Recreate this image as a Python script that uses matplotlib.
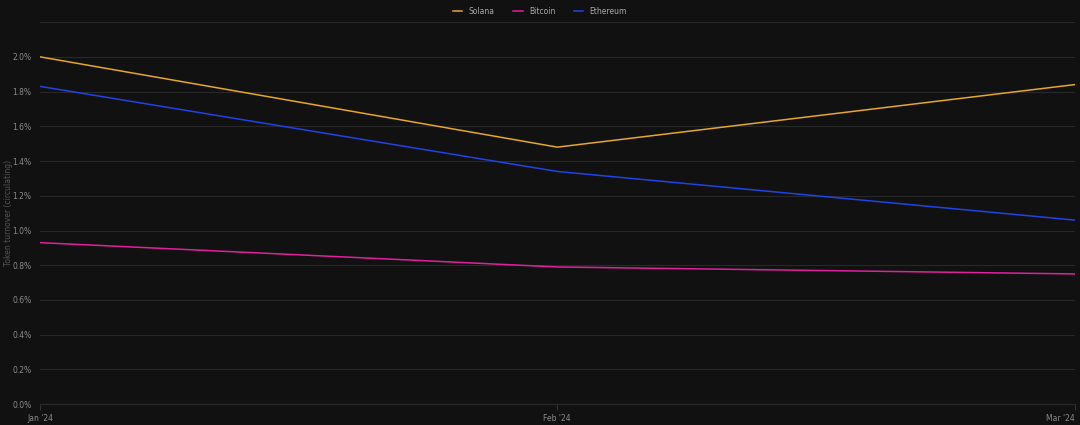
import matplotlib.pyplot as plt
from matplotlib.ticker import FuncFormatter

months = ["Jan '24", "Feb '24", "Mar '24"]
solana = [2.00, 1.48, 1.84]
bitcoin = [0.93, 0.79, 0.75]
ethereum = [1.83, 1.34, 1.06]
yticks = [0.0, 0.2, 0.4, 0.6, 0.8, 1.0, 1.2, 1.4, 1.6, 1.8, 2.0]

bg = '#111111'
fig = plt.figure(figsize=(10.8, 4.25), dpi=100, facecolor=bg)
ax = fig.add_axes([0.037, 0.049, 0.958, 0.899], facecolor=bg)

x = range(len(months))
ax.plot(x, solana, color='#e5a823', lw=1.1, label='Solana')
ax.plot(x, bitcoin, color='#e0219c', lw=1.1, label='Bitcoin')
ax.plot(x, ethereum, color='#1f44e6', lw=1.1, label='Ethereum')

ax.set_xlim(0, 2)
ax.set_ylim(0, 2.2)
ax.set_xticks(list(x))
ax.set_xticklabels(months)
ax.get_xticklabels()[-1].set_ha('right')
ax.set_yticks(yticks + [2.2])
ax.yaxis.set_major_formatter(FuncFormatter(lambda v, p: '' if v > 2.1 else f'{v:.1f}%'))
ax.grid(axis='y', color='#282828', lw=0.8)
ax.set_axisbelow(True)
for s in ax.spines.values():
    s.set_visible(False)
ax.spines['bottom'].set_visible(True)
ax.spines['bottom'].set_color('#2a2a2a')
ax.tick_params(axis='y', length=0, labelsize=5.5, labelcolor='#8a8a8a', pad=6)
ax.tick_params(axis='x', length=4, color='#333333', labelsize=5.5, labelcolor='#8a8a8a', pad=3)

ax.set_ylabel('Token turnover (circulating)', fontsize=5.5, color='#555555')
ax.yaxis.set_label_coords(-0.026, 0.5)

leg = fig.legend(loc='upper center', bbox_to_anchor=(0.5, 1.0), ncol=3, frameon=False,
                 fontsize=5.5, labelcolor='#aaaaaa', handlelength=1.2, columnspacing=2.5,
                 handletextpad=0.8)

fig.savefig('out.png', dpi=100, facecolor=bg)
